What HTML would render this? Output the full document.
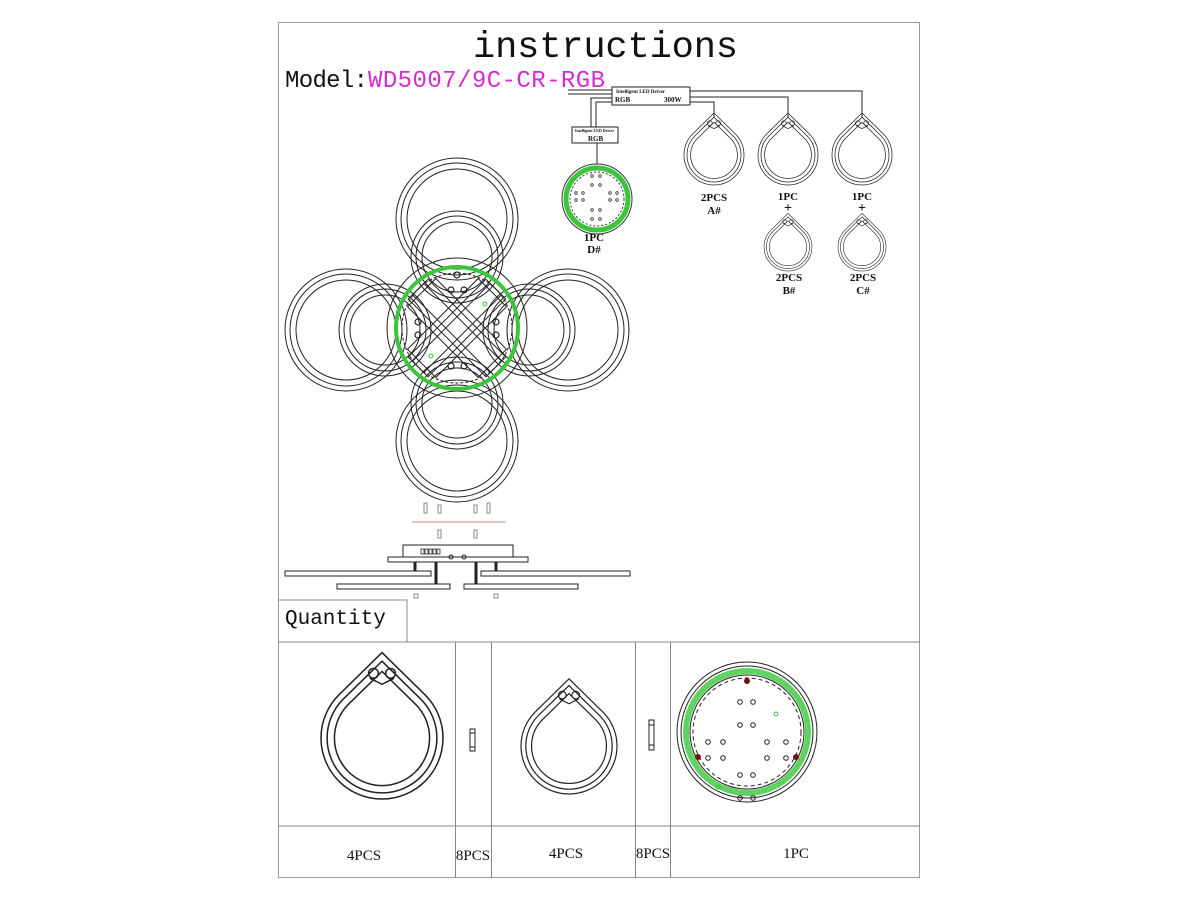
<!DOCTYPE html>
<html><head><meta charset="utf-8"><style>
html,body{margin:0;padding:0;background:#fff;}
svg{display:block;}
text{font-family:"Liberation Serif",serif;fill:#111;}
.m{font-family:"Liberation Mono",monospace;}
</style></head><body>
<svg width="1200" height="900" viewBox="0 0 1200 900" xmlns="http://www.w3.org/2000/svg">
<defs>
<path id="td" d="M0,-1.4 L0.714,-0.7 A1 1 0 1 1 -0.714,-0.7 Z"/>
<g id="tear" fill="none" stroke="#222">
  <use href="#td" transform="scale(1)" stroke-width="0.025"/>
  <use href="#td" transform="scale(0.9)" stroke-width="0.028"/>
  <use href="#td" transform="scale(0.78)" stroke-width="0.032"/>
  <circle cx="-0.14" cy="-1.06" r="0.08" stroke-width="0.025"/>
  <circle cx="0.14" cy="-1.06" r="0.08" stroke-width="0.025"/>
  <path d="M-0.2,-0.98 L0,-0.88 L0.2,-0.98" stroke-width="0.025"/>
</g>
</defs>

<!-- frame -->
<rect x="278.5" y="22.5" width="641" height="855" fill="none" stroke="#999" stroke-width="1"/>
<line x1="278" y1="642" x2="920" y2="642" stroke="#888"/>
<line x1="278" y1="826" x2="920" y2="826" stroke="#888"/>
<polyline points="278,600 407,600 407,642" fill="none" stroke="#888"/>
<line x1="455.5" y1="642" x2="455.5" y2="878" stroke="#888"/>
<line x1="491.5" y1="642" x2="491.5" y2="878" stroke="#888"/>
<line x1="635.5" y1="642" x2="635.5" y2="878" stroke="#888"/>
<line x1="670.5" y1="642" x2="670.5" y2="878" stroke="#888"/>

<!-- titles -->
<text x="473" y="57" class="m" font-size="37" textLength="265">instructions</text>
<text x="285" y="87" class="m" font-size="24" textLength="83">Model:</text>
<text x="368" y="87" class="m" font-size="24" fill="#e020d0" style="fill:#d629d0" textLength="237">WD5007/9C-CR-RGB</text>
<text x="285" y="624" class="m" font-size="21">Quantity</text>

<!-- wiring -->
<g stroke="#222" fill="none" stroke-width="1">
  <line x1="568" y1="90" x2="612" y2="90"/><line x1="568" y1="94" x2="612" y2="94"/>
  <rect x="612" y="87" width="78" height="18" fill="#fff"/>
  <polyline points="690,91 862,91 862,118"/>
  <polyline points="690,97 788,97 788,117"/>
  <polyline points="690,102 714,102 714,117"/>
  <polyline points="612,98 591,98 591,127"/>
  <polyline points="612,102 596,102 596,127"/>
  <rect x="572" y="127" width="46" height="16" fill="#fff"/>
  <line x1="597" y1="143" x2="597" y2="164"/>
</g>
<text x="616" y="93" font-size="5" font-weight="bold">Intelligent LED Driver</text>
<text x="615" y="102" font-size="7" font-weight="bold">RGB</text>
<text x="664" y="102" font-size="7" font-weight="bold">300W</text>
<text x="575" y="132" font-size="4" font-weight="bold">Intelligent LED Driver</text>
<text x="588" y="141" font-size="7" font-weight="bold">RGB</text>

<use href="#tear" transform="translate(714,155) scale(30)"/>
<use href="#tear" transform="translate(788,155) scale(30)"/>
<use href="#tear" transform="translate(862,155) scale(30)"/>
<use href="#tear" transform="translate(788,247) scale(24)"/>
<use href="#tear" transform="translate(862,247) scale(24)"/>
<g font-size="11" font-weight="bold" text-anchor="middle">
<text x="714" y="201">2PCS</text><text x="714" y="214">A#</text>
<text x="788" y="200">1PC</text><text x="788" y="212" font-size="14">+</text>
<text x="862" y="200">1PC</text><text x="862" y="212" font-size="14">+</text>
<text x="789" y="281">2PCS</text><text x="789" y="294">B#</text>
<text x="863" y="281">2PCS</text><text x="863" y="294">C#</text>
<text x="594" y="241">1PC</text><text x="594" y="253">D#</text>
</g>

<!-- small D# round -->
<g fill="none">
<circle cx="597" cy="199" r="35" stroke="#333"/>
<circle cx="597" cy="199" r="31" stroke="#3cc43c" stroke-width="5"/>
<circle cx="597" cy="199" r="27" stroke="#333" stroke-dasharray="2,2"/>
<g stroke="#333" stroke-width="0.8">
<circle cx="592" cy="176" r="1.3"/><circle cx="600" cy="176" r="1.3"/>
<circle cx="592" cy="185" r="1.3"/><circle cx="600" cy="185" r="1.3"/>
<circle cx="576" cy="193" r="1.3"/><circle cx="583" cy="193" r="1.3"/><circle cx="610" cy="193" r="1.3"/><circle cx="617" cy="193" r="1.3"/>
<circle cx="576" cy="200" r="1.3"/><circle cx="583" cy="200" r="1.3"/><circle cx="610" cy="200" r="1.3"/><circle cx="617" cy="200" r="1.3"/>
<circle cx="592" cy="210" r="1.3"/><circle cx="600" cy="210" r="1.3"/>
<circle cx="592" cy="219" r="1.3"/><circle cx="600" cy="219" r="1.3"/>
</g></g>

<!-- main fixture top view -->
<g fill="none" stroke="#222" stroke-width="1">
  <!-- big rings -->
  <g id="bigr"><circle cx="457" cy="219" r="61"/><circle cx="457" cy="219" r="56"/><circle cx="457" cy="219" r="50"/></g>
  <g><circle cx="457" cy="441" r="61"/><circle cx="457" cy="441" r="56"/><circle cx="457" cy="441" r="50"/></g>
  <g><circle cx="346" cy="330" r="61"/><circle cx="346" cy="330" r="56"/><circle cx="346" cy="330" r="50"/></g>
  <g><circle cx="568" cy="330" r="61"/><circle cx="568" cy="330" r="56"/><circle cx="568" cy="330" r="50"/></g>
  <!-- inner rings -->
  <g><circle cx="457" cy="257" r="46"/><circle cx="457" cy="257" r="41"/><circle cx="457" cy="257" r="35"/></g>
  <g><circle cx="457" cy="403" r="46"/><circle cx="457" cy="403" r="41"/><circle cx="457" cy="403" r="35"/></g>
  <g><circle cx="385" cy="330" r="46"/><circle cx="385" cy="330" r="41"/><circle cx="385" cy="330" r="35"/></g>
  <g><circle cx="529" cy="330" r="46"/><circle cx="529" cy="330" r="41"/><circle cx="529" cy="330" r="35"/></g>
  <!-- center -->
  <circle cx="457" cy="328" r="70" fill="none"/>
  <circle cx="457" cy="328" r="61" stroke="#3cc43c" stroke-width="4"/>
  <circle cx="457" cy="328" r="55" stroke-dasharray="3,2"/>
  <!-- X arms -->
  <g transform="translate(457,328) rotate(45)">
    <rect x="-55" y="-8" width="110" height="16"/>
    <rect x="-8" y="-55" width="16" height="110"/>
    <rect x="-55" y="-14" width="110" height="28"/>
    <rect x="-14" y="-55" width="28" height="110"/>
    <rect x="-50" y="-20" width="100" height="40"/>
    <rect x="-20" y="-50" width="40" height="100"/>
  </g>
  <g stroke-width="1.2">
    <circle cx="451" cy="290" r="3"/><circle cx="464" cy="290" r="3"/>
    <circle cx="451" cy="366" r="3"/><circle cx="464" cy="366" r="3"/>
    <circle cx="418" cy="322" r="3"/><circle cx="418" cy="335" r="3"/>
    <circle cx="496" cy="322" r="3"/><circle cx="496" cy="335" r="3"/>
    <circle cx="457" cy="275" r="3"/>
  </g>
</g>
<circle cx="485" cy="304" r="2" fill="none" stroke="#3cc43c"/>
<circle cx="431" cy="356" r="2" fill="none" stroke="#3cc43c"/>

<!-- side view -->
<g stroke="#222" fill="none" stroke-width="1">
  <line x1="412" y1="522" x2="506" y2="522" stroke="#c88"/>
  <g stroke="#888"><rect x="424" y="503" width="3" height="10"/><rect x="438" y="505" width="3" height="8"/><rect x="474" y="505" width="3" height="8"/><rect x="487" y="503" width="3" height="10"/><rect x="438" y="530" width="3" height="8"/><rect x="474" y="530" width="3" height="8"/></g>
  <rect x="403" y="545" width="110" height="13" fill="#fff"/>
  <rect x="388" y="557" width="140" height="5" fill="#fff"/>
  <line x1="415" y1="562" x2="415" y2="571" stroke-width="3"/>
  <line x1="496" y1="562" x2="496" y2="571" stroke-width="3"/>
  <line x1="436" y1="562" x2="436" y2="584" stroke-width="3"/>
  <line x1="476" y1="562" x2="476" y2="584" stroke-width="3"/>
  <rect x="285" y="571" width="146" height="5"/>
  <rect x="481" y="571" width="149" height="5"/>
  <rect x="337" y="584" width="113" height="5"/>
  <rect x="464" y="584" width="114" height="5"/>
  <rect x="414" y="594" width="4" height="4" stroke="#888"/>
  <rect x="494" y="594" width="4" height="4" stroke="#888"/>
  <g stroke-width="0.8"><rect x="421" y="549" width="3" height="5"/><rect x="425" y="549" width="3" height="5"/><rect x="429" y="549" width="3" height="5"/><rect x="433" y="549" width="3" height="5"/><rect x="437" y="549" width="3" height="5"/></g>
  <circle cx="451" cy="557" r="2"/><circle cx="464" cy="557" r="2"/>
</g>

<!-- bottom table contents -->
<use href="#tear" transform="translate(382,738) scale(61)"/>
<use href="#tear" transform="translate(569,746) scale(48)"/>
<g stroke="#222" fill="none">
  <rect x="470" y="729" width="5" height="22"/><line x1="470" y1="733" x2="475" y2="733"/><line x1="470" y1="747" x2="475" y2="747"/>
  <rect x="649" y="720" width="5" height="30"/><line x1="649" y1="725" x2="654" y2="725"/><line x1="649" y1="745" x2="654" y2="745"/>
  <circle cx="747" cy="732" r="70"/>
  <circle cx="747" cy="732" r="66"/>
  <circle cx="747" cy="732" r="61" stroke="#5fd35f" stroke-width="6"/>
  <circle cx="747" cy="732" r="57"/>
  <circle cx="747" cy="732" r="54" stroke-dasharray="4,3"/>
  <g stroke-width="1">
    <circle cx="740" cy="702" r="2.3"/><circle cx="753" cy="702" r="2.3"/>
    <circle cx="740" cy="725" r="2.3"/><circle cx="753" cy="725" r="2.3"/>
    <circle cx="708" cy="742" r="2.3"/><circle cx="723" cy="742" r="2.3"/><circle cx="767" cy="742" r="2.3"/><circle cx="786" cy="742" r="2.3"/>
    <circle cx="708" cy="758" r="2.3"/><circle cx="723" cy="758" r="2.3"/><circle cx="767" cy="758" r="2.3"/><circle cx="786" cy="758" r="2.3"/>
    <circle cx="740" cy="775" r="2.3"/><circle cx="753" cy="775" r="2.3"/>
    <circle cx="740" cy="798" r="2.3"/><circle cx="753" cy="798" r="2.3"/>
  </g>
  <circle cx="776" cy="714" r="2" stroke="#3cc43c"/>
  <circle cx="718" cy="787" r="2" stroke="#3cc43c"/>
</g>
<circle cx="747" cy="681" r="3" fill="#7a1010"/>
<circle cx="698" cy="757" r="3" fill="#7a1010"/>
<circle cx="796" cy="757" r="3" fill="#7a1010"/>

<g font-size="15" text-anchor="middle">
<text x="364" y="860">4PCS</text>
<text x="473" y="860">8PCS</text>
<text x="566" y="858">4PCS</text>
<text x="653" y="858">8PCS</text>
<text x="796" y="858">1PC</text>
</g>
</svg>
</body></html>
